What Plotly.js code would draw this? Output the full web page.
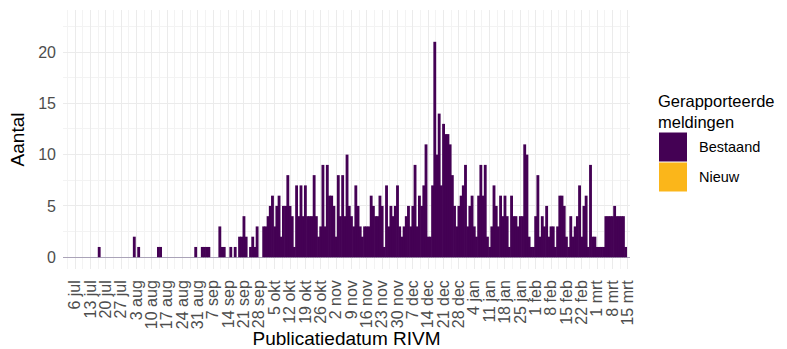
<!DOCTYPE html>
<html><head><meta charset="utf-8">
<script src="https://cdn.plot.ly/plotly-3.0.1.min.js"></script>
<style>html,body{margin:0;padding:0;background:#fff}#chart{width:787px;height:349px}</style>
</head><body><div id="chart"></div>
<script>
// first publication date of the series (one value per day)
const startDate = '2020-07-06';
// Gerapporteerde meldingen: Bestaand (one value per day, weeks on a row)
const bestaand = [
  0,0,0,0,0,0,0,
  0,0,0,0,1,0,0,
  0,0,0,0,0,0,0,
  0,0,0,0,0,0,2,
  0,1,0,0,0,0,0,
  0,0,0,1,1,0,0,
  0,0,0,0,0,0,0,
  0,0,0,0,0,0,1,
  0,0,1,1,1,1,0,
  0,0,0,3,1,1,0,
  0,1,0,1,0,2,2,
  4,2,0,1,2,1,3,
  0,0,3,3,4,5,6,
  3,5,6,2,5,5,8,
  5,4,1,7,4,7,4,
  7,4,4,4,8,4,2,
  3,9,3,9,6,6,5,
  2,8,4,8,4,10,5,
  4,3,7,5,3,2,3,
  3,3,6,5,4,4,6,
  5,1,7,3,5,4,5,
  7,3,2,3,4,5,3,
  5,9,3,6,5,7,11,
  2,2,7,21,10,14,7,
  13,12,12,11,8,5,3,
  5,6,7,9,3,5,6,
  3,2,6,9,6,9,2,
  1,3,7,5,3,6,4,
  6,4,1,6,4,4,3,
  4,4,11,10,2,1,1,
  4,8,2,4,3,5,2,
  3,3,1,3,6,6,5,
  2,1,4,2,3,4,7,
  2,5,6,1,9,2,2,
  1,1,1,1,4,4,4,
  4,5,4,4,4,4,1,
  0
];
// Nieuw: no reported values visible
const nieuw = [];
const nieuwDates = [];
// weekly tick labels (Dutch)
const tickLabels = ['6 jul','13 jul','20 jul','27 jul','3 aug','10 aug','17 aug','24 aug','31 aug',
  '7 sep','14 sep','21 sep','28 sep','5 okt','12 okt','19 okt','26 okt','2 nov','9 nov','16 nov',
  '23 nov','30 nov','7 dec','14 dec','21 dec','28 dec','4 jan','11 jan','18 jan','25 jan',
  '1 feb','8 feb','15 feb','22 feb','1 mrt','8 mrt','15 mrt'];
const legendTitle = 'Gerapporteerde<br>meldingen';
const seriesNames = ['Bestaand', 'Nieuw'];
const seriesColors = ['#440154', '#FBB61A'];

const DAY = 86400000;
const t0 = Date.parse(startDate + 'T00:00:00Z');
function dayStr(n){ return new Date(t0 + n*DAY).toISOString().slice(0,16).replace('T',' '); }
const dates = bestaand.map((_, i) => dayStr(i));
const tickVals = tickLabels.map((_, i) => dayStr(7*i));
const minorVals = tickLabels.map((_, i) => dayStr(7*i - 3.5));

const FONT = 'Liberation Sans, Arial, sans-serif';
const W = 787, H = 349;
const M = {l: 63, r: 157, t: 10, b: 80};
const pw = W - M.l - M.r, ph = H - M.t - M.b;
const px = X => (X - M.l) / pw;
const py = Y => (H - M.b - Y) / ph;

const traces = [
  {type:'bar', x: dates, y: bestaand, name: seriesNames[0], width: 1.3*DAY,
   marker:{color: seriesColors[0], line:{width:0}}, hoverinfo:'skip', showlegend:false},
  {type:'bar', x: nieuwDates, y: nieuw, name: seriesNames[1], width: 1.3*DAY,
   marker:{color: seriesColors[1], line:{width:0}}, hoverinfo:'skip', showlegend:false}
];

const layout = {
  width: W, height: H, margin: M, barmode:'stack',
  paper_bgcolor:'#ffffff', plot_bgcolor:'#ffffff',
  font:{family: FONT, color:'#000'},
  showlegend:false,
  xaxis:{
    type:'date', range:[dayStr(-5.5), dayStr(253)],
    tickmode:'array', tickvals: tickVals, ticktext: tickLabels, tickangle:-90,
    tickfont:{family: FONT, size:16, color:'#4d4d4d'}, ticks:'', ticklabelstandoff: 7,
    showgrid:true, gridcolor:'#ebebeb', gridwidth:1,
    minor:{tickmode:'array', tickvals: minorVals, showgrid:true, gridcolor:'#f3f3f3', gridwidth:1, ticks:''},
    zeroline:false, showline:false, automargin:false,
    title:{text:'Publicatiedatum RIVM', font:{family: FONT, size:19, color:'#000'}, standoff:1}
  },
  yaxis:{
    range:[-1.15, 24.1], tickmode:'array', tickvals:[0,5,10,15,20],
    tickfont:{family: FONT, size:16, color:'#4d4d4d'}, ticks:'', ticklabelstandoff: 6,
    showgrid:true, gridcolor:'#ebebeb', gridwidth:1,
    minor:{tickmode:'array', tickvals:[2.5,7.5,12.5,17.5,22.5], showgrid:true, gridcolor:'#f3f3f3', gridwidth:1, ticks:''},
    zeroline:true, zerolinecolor:'#aaa3b8', zerolinewidth:1, showline:false, automargin:false,
    title:{text:'Aantal', font:{family: FONT, size:19, color:'#000'}, standoff:8}
  },
  shapes:[
    {type:'rect', xref:'paper', yref:'paper', x0:px(659), x1:px(687), y0:py(132.5), y1:py(161.5),
     fillcolor: seriesColors[0], line:{width:0}},
    {type:'rect', xref:'paper', yref:'paper', x0:px(659), x1:px(687), y0:py(162.5), y1:py(191.5),
     fillcolor: seriesColors[1], line:{width:0}}
  ],
  annotations:[
    {xref:'paper', yref:'paper', x:px(656), y:py(90), xanchor:'left', yanchor:'top', align:'left',
     text: legendTitle, showarrow:false, font:{family: FONT, size:16.5, color:'#000'}},
    {xref:'paper', yref:'paper', x:px(697), y:py(147), xanchor:'left', yanchor:'middle',
     text: seriesNames[0], showarrow:false, font:{family: FONT, size:14.5, color:'#000'}},
    {xref:'paper', yref:'paper', x:px(697), y:py(177), xanchor:'left', yanchor:'middle',
     text: seriesNames[1], showarrow:false, font:{family: FONT, size:14.5, color:'#000'}}
  ]
};

Plotly.newPlot('chart', traces, layout, {staticPlot:true, displayModeBar:false});
</script>
</body></html>
